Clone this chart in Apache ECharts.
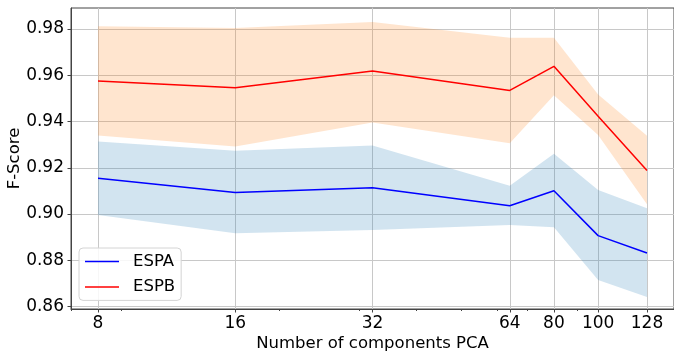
<!DOCTYPE html>
<html>
<head>
<meta charset="utf-8">
<script src="https://cdn.jsdelivr.net/npm/echarts@6/dist/echarts.min.js"></script>
<style>
html,body{margin:0;padding:0;background:#fff;}
#chart{width:674px;height:353px;}
</style>
</head>
<body>
<div id="chart"></div>
<script>
var components = [8, 16, 32, 64, 80, 100, 128];
var xTickLabels = [8, 16, 32, 64, 80, 100, 128];
var xMinorTicks = [7, 9, 20, 30, 40, 50, 60, 70, 90];
var yTicks = [0.86, 0.88, 0.90, 0.92, 0.94, 0.96, 0.98];

var espaMean  = [0.9155, 0.9093, 0.9114, 0.9036, 0.9101, 0.8907, 0.8832];
var espaUpper = [0.9313, 0.9274, 0.9296, 0.9122, 0.9260, 0.9104, 0.9025];
var espaLower = [0.8996, 0.8917, 0.8931, 0.8953, 0.8943, 0.8715, 0.8642];

var espbMean  = [0.9575, 0.9546, 0.9618, 0.9534, 0.9638, 0.9423, 0.9188];
var espbUpper = [0.9811, 0.9804, 0.9829, 0.9762, 0.9762, 0.9516, 0.9338];
var espbLower = [0.9339, 0.9292, 0.9396, 0.9306, 0.9513, 0.9342, 0.9042];

function pairs(xs, ys){ return xs.map(function(x,i){ return [x, ys[i]]; }); }
function triples(xs, lo, up){ return xs.map(function(x,i){ return [x, lo[i], up[i]]; }); }

function bandRenderer(xs, lo, up, fill){
  return function(params, api){
    if (params.dataIndex !== 0) return null;
    var pts = [];
    for (var i = 0; i < xs.length; i++) pts.push(api.coord([xs[i], up[i]]));
    for (var j = xs.length - 1; j >= 0; j--) pts.push(api.coord([xs[j], lo[j]]));
    return {type: 'polygon', shape: {points: pts}, style: {fill: fill, stroke: null}};
  };
}

var FONT = 'DejaVu Sans';
var X_MIN = 6.98, X_MAX = 146.7;

var chart = echarts.init(document.getElementById('chart'), null, {renderer:'canvas'});
chart.setOption({
  animation: false,
  backgroundColor: '#fff',
  grid: {left: 71, right: 0, top: 8, bottom: 44, outerBoundsMode: 'none', containLabel: false,
         show: true, borderColor: '#444', borderWidth: 1, backgroundColor: 'transparent'},
  legend: {
    data: ['ESPA', 'ESPB'],
    orient: 'vertical',
    left: 79, top: 248,
    padding: [5, 6, 5, 6],
    icon: 'rect',
    itemWidth: 34, itemHeight: 1.5, itemGap: 8.4,
    borderColor: '#d4d4d4', borderWidth: 1, borderRadius: 4,
    backgroundColor: 'rgba(255,255,255,0.85)',
    textStyle: {fontFamily: FONT, fontSize: 16.5, color: '#000', padding: [0,0,0,9], lineHeight: 17}
  },
  xAxis: [{
    type: 'log', logBase: 2, min: X_MIN, max: X_MAX,
    name: 'Number of components PCA', nameLocation: 'middle', nameGap: 26, nameMoveOverlap: false,
    nameTextStyle: {fontFamily: FONT, fontSize: 16.5, color: '#000'},
    axisLine: {show: true, lineStyle: {color: '#444', width: 1}},
    axisTick: {show: true, length: 3.5, customValues: xTickLabels, lineStyle: {color: '#444'}},
    axisLabel: {customValues: xTickLabels, fontFamily: FONT, fontSize: 17, color: '#000', margin: 6},
    splitLine: {show: true, lineStyle: {color: '#c8c8c8', width: 1}}
  }, {
    type: 'log', logBase: 2, min: X_MIN, max: X_MAX, position: 'bottom', offset: 0,
    axisLine: {show: false},
    axisTick: {show: true, length: 2, customValues: xMinorTicks, lineStyle: {color: '#444'}},
    axisLabel: {show: false},
    splitLine: {show: false}
  }],
  yAxis: {
    type: 'value', min: 0.859, max: 0.989,
    name: 'F-Score', nameLocation: 'middle', nameGap: 48, nameMoveOverlap: false,
    nameTextStyle: {fontFamily: FONT, fontSize: 16.5, color: '#000'},
    axisLine: {show: true, lineStyle: {color: '#444', width: 1}},
    axisTick: {show: true, length: 3.5, customValues: yTicks, lineStyle: {color: '#444'}},
    axisLabel: {customValues: yTicks, fontFamily: FONT, fontSize: 17, color: '#000', margin: 7,
      formatter: function(v){ return v.toFixed(2); }},
    splitLine: {show: true, lineStyle: {color: '#c8c8c8', width: 1}}
  },
  series: [
    {name: 'espaBand', type: 'custom', data: triples(components, espaLower, espaUpper),
     encode: {x: 0, y: [1, 2]}, renderItem: bandRenderer(components, espaLower, espaUpper, 'rgba(31,119,180,0.2)'),
     silent: true, z: 1},
    {name: 'espbBand', type: 'custom', data: triples(components, espbLower, espbUpper),
     encode: {x: 0, y: [1, 2]}, renderItem: bandRenderer(components, espbLower, espbUpper, 'rgba(255,127,14,0.2)'),
     silent: true, z: 1},
    {name: 'ESPA', type: 'line', data: pairs(components, espaMean), symbol: 'none',
     lineStyle: {color: '#0000ff', width: 1.5}, itemStyle: {color: '#0000ff'}, z: 3},
    {name: 'ESPB', type: 'line', data: pairs(components, espbMean), symbol: 'none',
     lineStyle: {color: '#ff0000', width: 1.5}, itemStyle: {color: '#ff0000'}, z: 3}
  ]
});
</script>
</body>
</html>
